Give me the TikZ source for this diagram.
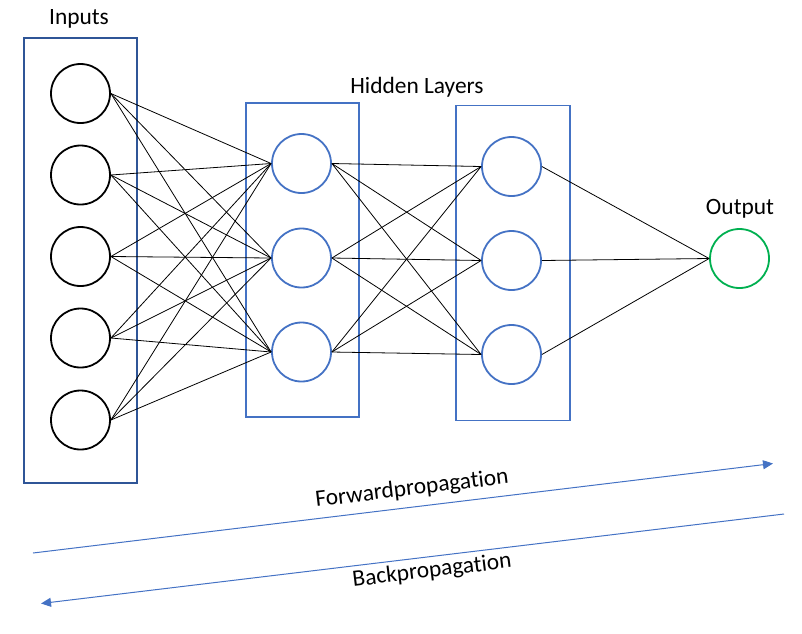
\documentclass[tikz,border=0pt]{standalone}
\usepackage{fontspec}
\setmainfont[Ligatures=NoCommon]{Carlito}
\usetikzlibrary{arrows.meta}
\definecolor{darkblue}{HTML}{2F5597}
\definecolor{midblue}{HTML}{4472C4}
\definecolor{outgreen}{HTML}{00B050}
\begin{document}
\begin{tikzpicture}[x=1pt,y=-1pt,
  neuron/.style={circle,draw,line width=1.8pt,minimum size=59pt,inner sep=0pt},
  inneuron/.style={neuron,draw=black},
  hidneuron/.style={neuron,draw=midblue},
  outneuron/.style={neuron,draw=outgreen},
  layerbox/.style={draw,line width=1.8pt,inner sep=0pt},
  link/.style={draw=black,line width=0.8pt},
  flow/.style={draw=midblue,line width=1pt,-{Triangle[length=10pt,width=9pt]}},
  title/.style={font=\fontsize{23.4}{28}\selectfont,inner sep=0pt},
  flowlabel/.style={font=\fontsize{23.4}{28}\selectfont,inner sep=0pt,rotate=6.9}]
\useasboundingbox (0,0) rectangle (802,633);

% layer frames
\node[layerbox,draw=darkblue,minimum width=113pt,minimum height=445pt] (inbox) at (80.5,260.5) {};
\node[layerbox,draw=midblue,minimum width=113pt,minimum height=314pt] (hidboxa) at (302.5,260) {};
\node[layerbox,draw=midblue,minimum width=114pt,minimum height=315pt] (hidboxb) at (513,263) {};

% titles
\node[title] (intitle) at (79,19) {Inputs};
\node[title] (hidtitle) at (417,87) {Hidden Layers};
\node[title] (outtitle) at (740,209) {Output};

% neurons
\foreach \i/\y in {1/93.5,2/175,3/256.5,4/338,5/420}
  \node[inneuron] (in\i) at (80.5,\y) {};
\foreach \j/\y in {1/163.5,2/258,3/352}
  \node[hidneuron] (ha\j) at (301.5,\y) {};
\foreach \j/\y in {1/166.5,2/260.5,3/354.5}
  \node[hidneuron] (hb\j) at (511.5,\y) {};
\node[outneuron] (out) at (739.5,258.5) {};

% weights
\foreach \i in {1,...,5}
  \foreach \j in {1,2,3}
    \draw[link] (in\i.east) -- (ha\j.west);
\foreach \i in {1,2,3}
  \foreach \j in {1,2,3}
    \draw[link] (ha\i.east) -- (hb\j.west);
\foreach \i in {1,2,3}
  \draw[link] (hb\i.east) -- (out.west);

% propagation directions
\coordinate (fwdstart) at (33,553);
\coordinate (fwdend) at (773,463.5);
\coordinate (bckstart) at (784,514);
\coordinate (bckend) at (41,603.5);
\draw[flow] (fwdstart) -- (fwdend);
\draw[flow] (bckstart) -- (bckend);
\node[flowlabel] (fwdlabel) at (412,489) {Forwardpropagation};
\node[flowlabel] (bcklabel) at (432,571) {Backpropagation};
\end{tikzpicture}
\end{document}
